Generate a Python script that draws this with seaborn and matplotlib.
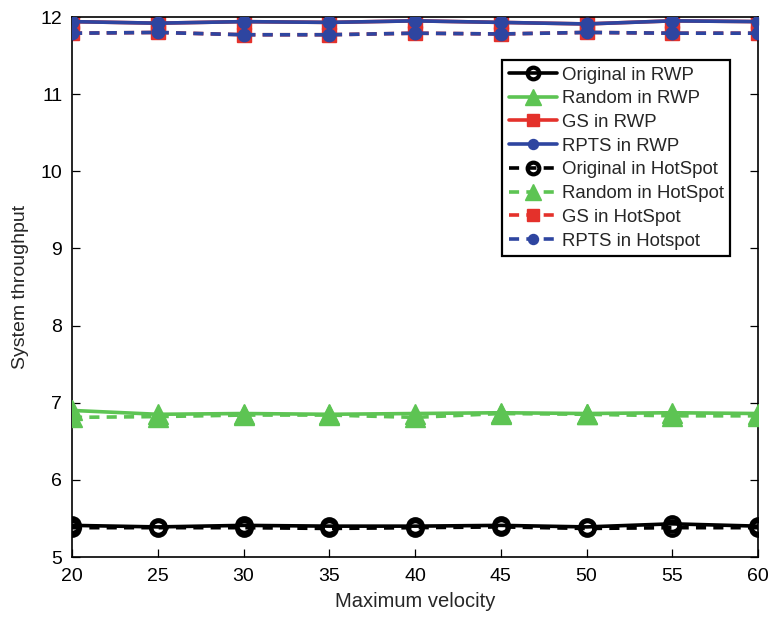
import matplotlib
matplotlib.use("Agg")
import matplotlib.pyplot as plt
import seaborn as sns
import pandas as pd

velocity = [20, 25, 30, 35, 40, 45, 50, 55, 60]

original_rwp = [5.41, 5.39, 5.41, 5.40, 5.40, 5.41, 5.39, 5.43, 5.40]
random_rwp = [6.90, 6.85, 6.86, 6.85, 6.86, 6.87, 6.86, 6.87, 6.86]
gs_rwp = [11.94, 11.92, 11.94, 11.93, 11.95, 11.93, 11.91, 11.95, 11.94]
rpts_rwp = [11.94, 11.92, 11.94, 11.93, 11.95, 11.93, 11.91, 11.95, 11.94]

original_hot = [5.38, 5.38, 5.38, 5.37, 5.38, 5.39, 5.37, 5.38, 5.38]
random_hot = [6.81, 6.82, 6.84, 6.84, 6.81, 6.86, 6.85, 6.83, 6.83]
gs_hot = [11.79, 11.80, 11.77, 11.77, 11.79, 11.78, 11.80, 11.79, 11.79]
rpts_hot = [11.79, 11.80, 11.77, 11.77, 11.79, 11.78, 11.80, 11.79, 11.79]

labels = ["Original in RWP", "Random in RWP", "GS in RWP", "RPTS in RWP",
          "Original in HotSpot", "Random in HotSpot", "GS in HotSpot", "RPTS in Hotspot"]
series = [original_rwp, random_rwp, gs_rwp, rpts_rwp,
          original_hot, random_hot, gs_hot, rpts_hot]

BLACK = "#000000"
GREEN = "#5dc453"
RED = "#e4312b"
BLUE = "#2e45a0"

styles = [
    dict(color=BLACK, marker="o", mfc="none", mec=BLACK, ms=10.5, mew=3.0, ls="-", z=5),
    dict(color=GREEN, marker="^", mfc=GREEN, mec=GREEN, ms=14, mew=1.0, ls="-", z=4),
    dict(color=RED, marker="s", mfc=RED, mec=RED, ms=10.5, mew=1.0, ls="-", z=2),
    dict(color=BLUE, marker="o", mfc=BLUE, mec=BLUE, ms=9, mew=1.0, ls="-", z=6),
    dict(color=BLACK, marker="o", mfc="none", mec=BLACK, ms=10.5, mew=3.0, ls="--", z=5),
    dict(color=GREEN, marker="^", mfc=GREEN, mec=GREEN, ms=14, mew=1.0, ls="--", z=4),
    dict(color=RED, marker="s", mfc=RED, mec=RED, ms=10.5, mew=1.0, ls="--", z=2),
    dict(color=BLUE, marker="o", mfc=BLUE, mec=BLUE, ms=9, mew=1.0, ls="--", z=6),
]

sns.set_style("white")
plt.rcParams["font.family"] = ["Liberation Sans", "DejaVu Sans"]

fig = plt.figure(figsize=(7.74, 6.21), dpi=100)
ax = fig.add_axes([72 / 774, 1 - 557 / 621, (758 - 72) / 774, (557 - 17) / 621])

for lab, vals, st in zip(labels, series, styles):
    df = pd.DataFrame({"v": velocity, "t": vals})
    sns.lineplot(data=df, x="v", y="t", ax=ax, label=lab, color=st["color"],
                 linewidth=2.6, marker=st["marker"],
                 markersize=st["ms"], markerfacecolor=st["mfc"],
                 markeredgecolor=st["mec"], markeredgewidth=st["mew"],
                 zorder=st["z"])
    line = ax.lines[-1]
    if st["ls"] == "--":
        line.set_linestyle((0, (2.8, 2.0)))
    else:
        line.set_linestyle("-")

ax.set_xlim(20, 60)
ax.set_ylim(5, 12)
ax.set_xticks(velocity)
ax.set_yticks(range(5, 13))
ax.set_xlabel("Maximum velocity", fontsize=14.5, labelpad=5)
ax.set_ylabel("System throughput", fontsize=14, labelpad=8)
ax.tick_params(direction="in", length=6, width=0.9, labelsize=14, colors="black",
               top=True, right=True, bottom=True, left=True)
ax.tick_params(axis="y", pad=7)
ax.tick_params(axis="x", pad=8)
for sp in ax.spines.values():
    sp.set_color("black")
    sp.set_linewidth(1.2)
    sp.set_visible(True)

leg = ax.legend(loc="upper left", bbox_to_anchor=((502 - 72) / 686, 1 - (60 - 17) / 540),
                fontsize=13.4, frameon=True, fancybox=False, edgecolor="black",
                framealpha=1, handlelength=2.6, handletextpad=0.25, borderpad=0.35,
                labelspacing=0.36, borderaxespad=0, markerscale=0.8)
leg.get_frame().set_linewidth(1.6)

fig.savefig("out.png", dpi=100)
